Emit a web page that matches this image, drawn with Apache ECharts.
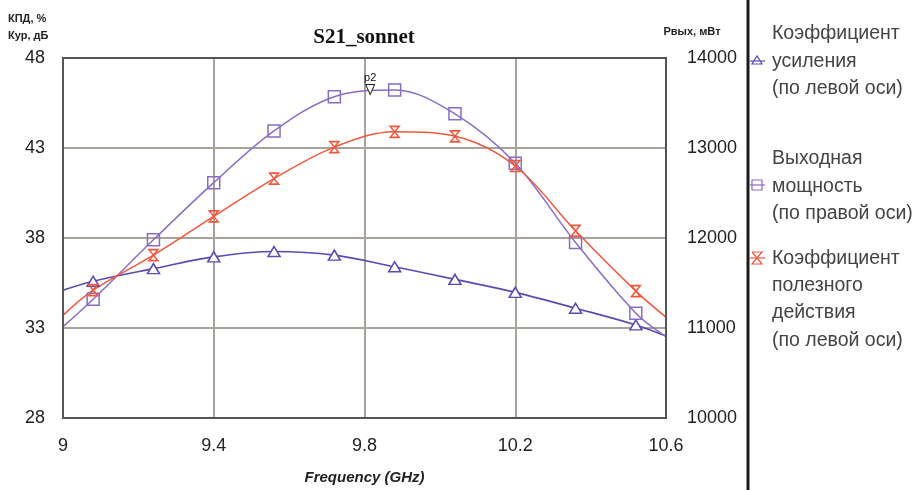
<!DOCTYPE html>
<html>
<head>
<meta charset="utf-8">
<script src="https://cdn.jsdelivr.net/npm/echarts@6/dist/echarts.min.js"></script>
<style>
html,body{margin:0;padding:0;background:#fff;}
#chart{width:917px;height:490px;}
</style>
</head>
<body>
<div id="chart"></div>
<script>
// ---- data ----
const freqs = [9.0, 9.08, 9.24, 9.4, 9.56, 9.72, 9.88, 10.04, 10.2, 10.36, 10.52, 10.6];
const gain  = [35.1, 35.6, 36.3, 36.95, 37.25, 37.05, 36.4, 35.7, 34.98, 34.1, 33.17, 32.55];
const power = [11015, 11320, 11980, 12615, 13190, 13570, 13645, 13380, 12830, 11950, 11165, 10905];
const eff   = [33.7, 35.1, 37.05, 39.2, 41.3, 43.05, 43.9, 43.65, 42.0, 38.4, 35.05, 33.6];
const xTicks = ['9', '9.4', '9.8', '10.2', '10.6'];
const leftTicks = ['28', '33', '38', '43', '48'];
const rightTicks = ['10000', '11000', '12000', '13000', '14000'];
const marker = { name: 'p2', freq: 9.815, power: 13650 };
const legendTexts = [
  'Коэффициент\nусиления\n(по левой оси)',
  'Выходная\nмощность\n(по правой оси)',
  'Коэффициент\nполезного\nдействия\n(по левой оси)'
];

const C_GAIN = '#5b4bb0', C_POW = '#8a6cc4', C_EFF = '#f0583e';
const HOURGLASS = 'path://M0,0L10,0L0,13L10,13Z';

function build(vals) {
  return freqs.map((f, i) => {
    const item = { value: [f, vals[i]] };
    if (i === 0 || i === freqs.length - 1) item.symbol = 'none';
    return item;
  });
}

const chart = echarts.init(document.getElementById('chart'), null, { renderer: 'canvas' });
const axisFont = { fontFamily: 'Liberation Sans, Arial, sans-serif', fontSize: 18, color: '#222' };
const gridColor = '#a8a29c';

chart.setOption({
  animation: false,
  backgroundColor: '#fff',
  grid: { left: 63, top: 58, width: 603, height: 360, show: true, borderColor: '#555', borderWidth: 2, backgroundColor: 'transparent', z: 5 },
  xAxis: [
    { type: 'value', min: 0, max: 4, interval: 1, position: 'bottom',
      axisLine: { show: false }, axisTick: { show: false },
      splitLine: { show: true, lineStyle: { color: gridColor, width: 2 } },
      axisLabel: Object.assign({ margin: 19, formatter: v => xTicks[v] }, axisFont),
      name: 'Frequency (GHz)', nameLocation: 'middle', nameGap: 52,
      nameTextStyle: { fontFamily: 'Liberation Sans, Arial, sans-serif', fontSize: 15, fontWeight: 'bold', fontStyle: 'italic', color: '#222' } },
    { type: 'value', min: 9, max: 10.6, show: false }
  ],
  yAxis: [
    { type: 'value', min: 0, max: 4, interval: 1, position: 'left',
      axisLine: { show: false }, axisTick: { show: false },
      splitLine: { show: true, lineStyle: { color: gridColor, width: 2 } },
      axisLabel: Object.assign({ margin: 18, formatter: v => leftTicks[v] }, axisFont) },
    { type: 'value', min: 28, max: 48, show: false, position: 'left' },
    { type: 'value', min: 10000, max: 14000, interval: 1000, position: 'right',
      axisLine: { show: false }, axisTick: { show: false }, splitLine: { show: false },
      axisLabel: Object.assign({ margin: 21, formatter: v => rightTicks[(v - 10000) / 1000] }, axisFont) }
  ],
  series: [
    { name: 'gain', type: 'line', xAxisIndex: 1, yAxisIndex: 1, smooth: 0.35,
      data: build(gain), symbol: 'triangle', symbolSize: [12, 10],
      lineStyle: { color: C_GAIN, width: 1.6 },
      itemStyle: { color: '#fff', borderColor: C_GAIN, borderWidth: 1.5 }, z: 3 },
    { name: 'power', type: 'line', xAxisIndex: 1, yAxisIndex: 2, smooth: 0.35,
      data: build(power), symbol: 'rect', symbolSize: 12,
      lineStyle: { color: C_POW, width: 1.5 },
      itemStyle: { color: 'rgba(255,255,255,0)', borderColor: C_POW, borderWidth: 1.5 }, z: 3,
      markPoint: {
        symbol: 'path://M0,0L10,0L5,12Z', symbolSize: [9, 10], symbolOffset: [0, 0],
        itemStyle: { color: '#fff', borderColor: '#222', borderWidth: 1 },
        label: { show: true, position: 'top', distance: 1, formatter: '{b}', fontSize: 11, color: '#111', fontFamily: 'Liberation Sans, Arial, sans-serif' },
        data: [{ name: marker.name, coord: [marker.freq, marker.power] }]
      } },
    { name: 'eff', type: 'line', xAxisIndex: 1, yAxisIndex: 1, smooth: 0.35,
      data: build(eff), symbol: HOURGLASS, symbolSize: [9, 11],
      lineStyle: { color: C_EFF, width: 1.5 },
      itemStyle: { color: 'rgba(255,255,255,0)', borderColor: C_EFF, borderWidth: 1.5 }, z: 3 }
  ],
  graphic: [
    { type: 'text', left: 8, top: 10, style: { text: 'КПД, %\nКур, дБ', font: 'bold 11px Liberation Sans, Arial, sans-serif', fill: '#222', lineHeight: 17 } },
    { type: 'text', x: 692, y: 32, style: { text: 'Рвых, мВт', font: 'bold 11px Liberation Sans, Arial, sans-serif', fill: '#222', textAlign: 'center', textVerticalAlign: 'middle' } },
    { type: 'text', x: 364, y: 38, style: { text: 'S21_sonnet', font: 'bold 21px Liberation Serif, Times New Roman, serif', fill: '#111', textAlign: 'center', textVerticalAlign: 'middle' } },
    { type: 'line', shape: { x1: 748, y1: 0, x2: 748, y2: 490 }, style: { stroke: '#1a1a1a', lineWidth: 3 } },
    // legend texts
    { type: 'text', x: 772, y: 20, style: { text: legendTexts[0], font: '19.5px Liberation Sans, Arial, sans-serif', fill: '#444', lineHeight: 27.5 } },
    { type: 'text', x: 772, y: 145, style: { text: legendTexts[1], font: '19.5px Liberation Sans, Arial, sans-serif', fill: '#444', lineHeight: 27.5 } },
    { type: 'text', x: 772, y: 245, style: { text: legendTexts[2], font: '19.5px Liberation Sans, Arial, sans-serif', fill: '#444', lineHeight: 27.2 } },
    // legend symbols
    { type: 'line', shape: { x1: 750, y1: 61, x2: 765, y2: 61 }, style: { stroke: C_GAIN, lineWidth: 1.2 } },
    { type: 'polygon', shape: { points: [[752, 64], [762, 64], [757, 56]] }, style: { fill: 'none', stroke: C_GAIN, lineWidth: 1.2 } },
    { type: 'line', shape: { x1: 750, y1: 185, x2: 765, y2: 185 }, style: { stroke: C_POW, lineWidth: 1.2 } },
    { type: 'rect', shape: { x: 752, y: 180, width: 10, height: 10 }, style: { fill: 'none', stroke: C_POW, lineWidth: 1.2 } },
    { type: 'line', shape: { x1: 750, y1: 258, x2: 765, y2: 258 }, style: { stroke: C_EFF, lineWidth: 1.2 } },
    { type: 'polyline', shape: { points: [[752, 252], [762, 252], [752, 264], [762, 264], [752, 252]] }, style: { fill: 'none', stroke: C_EFF, lineWidth: 1.2 } }
  ]
});
</script>
</body>
</html>
